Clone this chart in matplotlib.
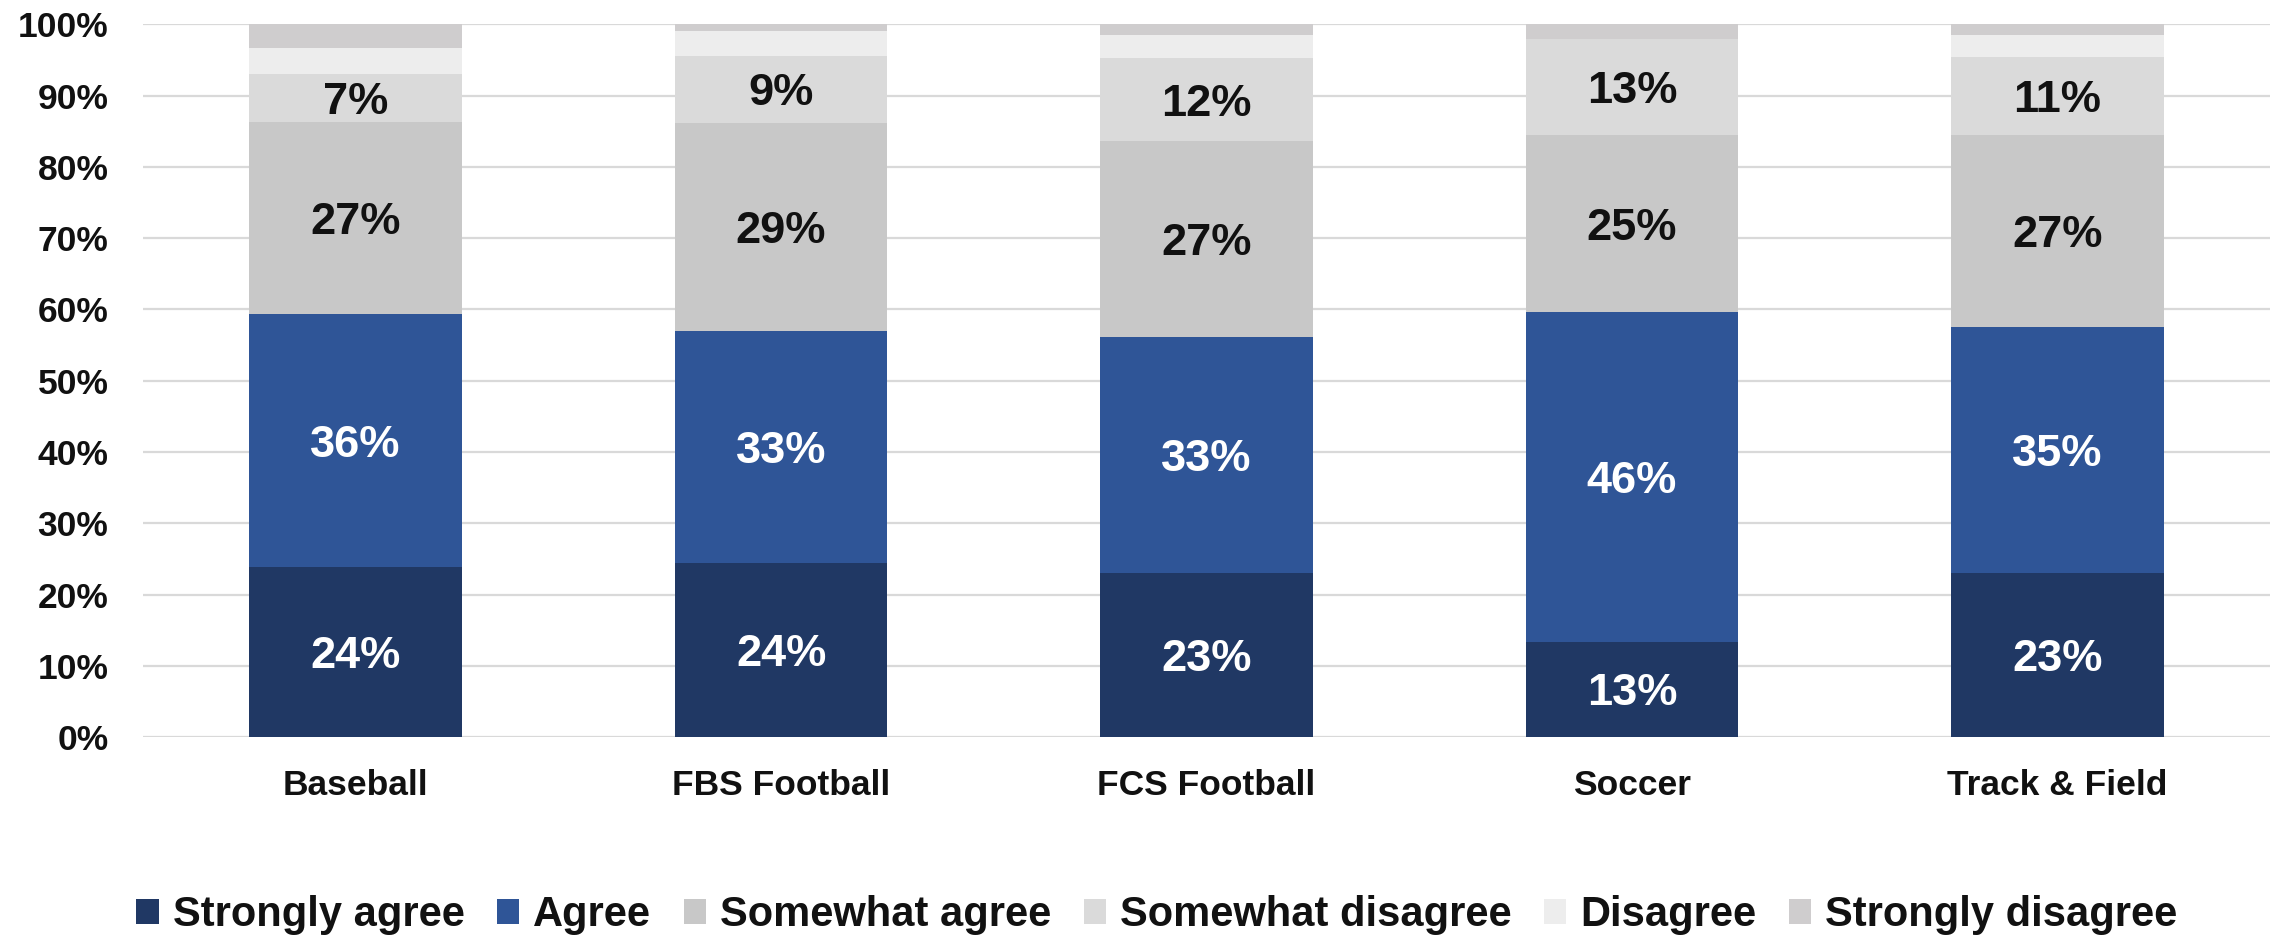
import matplotlib
matplotlib.use("Agg")
import matplotlib.pyplot as plt
import numpy as np

plt.rcParams['font.family'] = ['Liberation Sans', 'DejaVu Sans']
plt.rcParams['font.weight'] = 'bold'

sports = ["Baseball", "FBS Football", "FCS Football", "Soccer", "Track & Field"]
responses = ["Strongly agree", "Agree", "Somewhat agree",
             "Somewhat disagree", "Disagree", "Strongly disagree"]

strongly_agree = [23.8, 24.4, 23.0, 13.4, 23.0]
agree = [35.6, 32.6, 33.2, 46.2, 34.6]
somewhat_agree = [26.9, 29.2, 27.4, 24.9, 26.9]
somewhat_disagree = [6.7, 9.4, 11.7, 13.4, 10.9]
disagree = [3.7, 3.5, 3.2, 0.0, 3.1]
strongly_disagree = [3.3, 0.9, 1.5, 2.1, 1.5]

series = [strongly_agree, agree, somewhat_agree,
          somewhat_disagree, disagree, strongly_disagree]
colors = ["#203864", "#2F5597", "#C8C8C8", "#DADADA", "#EDEDED", "#CFCDCE"]
label_colors = ["white", "white", "#111111", "#111111", None, None]

fig = plt.figure(figsize=(22.75, 9.35), dpi=100)
ax = fig.add_axes([143 / 2275, 1 - 737 / 935, (2270 - 143) / 2275, (737 - 24.5) / 935])

x = np.arange(len(sports))
bottom = np.zeros(len(sports))
handles = []
for vals, col, lcol, name in zip(series, colors, label_colors, responses):
    vals = np.array(vals)
    bars = ax.bar(x, vals, width=0.5, bottom=bottom, color=col, label=name, zorder=3)
    handles.append(bars)
    if lcol is not None:
        for xi, b, v in zip(x, bottom, vals):
            ax.text(xi, b + v / 2, f"{round(v):d}%", ha="center", va="center_baseline",
                    color=lcol, fontsize=32.5, fontweight="bold", zorder=4)
    bottom += vals

ax.set_xlim(-0.5, len(sports) - 0.5)
ax.set_ylim(0, 100)
ax.set_yticks(np.arange(0, 101, 10))
ax.set_yticklabels([f"{v}%" for v in range(0, 101, 10)])
ax.set_xticks(x)
ax.set_xticklabels(sports)
ax.tick_params(axis="y", length=0, pad=25, labelsize=25.5, colors="#111111")
ax.tick_params(axis="x", length=0, pad=23, labelsize=25.5, colors="#111111")
for lab in ax.get_xticklabels() + ax.get_yticklabels():
    lab.set_fontweight("bold")
ax.grid(axis="y", color="#D9D9D9", linewidth=1.6, zorder=0)
ax.set_axisbelow(True)
for s in ax.spines.values():
    s.set_visible(False)

leg = fig.legend(handles=handles, labels=responses, loc="center",
                 bbox_to_anchor=(1157 / 2275, 20 / 935), ncol=6, frameon=False,
                 fontsize=30, handlelength=0.53, handleheight=0.53,
                 handletextpad=0.34, columnspacing=0.78, borderaxespad=0, borderpad=0)
for t in leg.get_texts():
    t.set_fontweight("bold")
    t.set_color("#111111")

fig.savefig("out.png", dpi=100)
